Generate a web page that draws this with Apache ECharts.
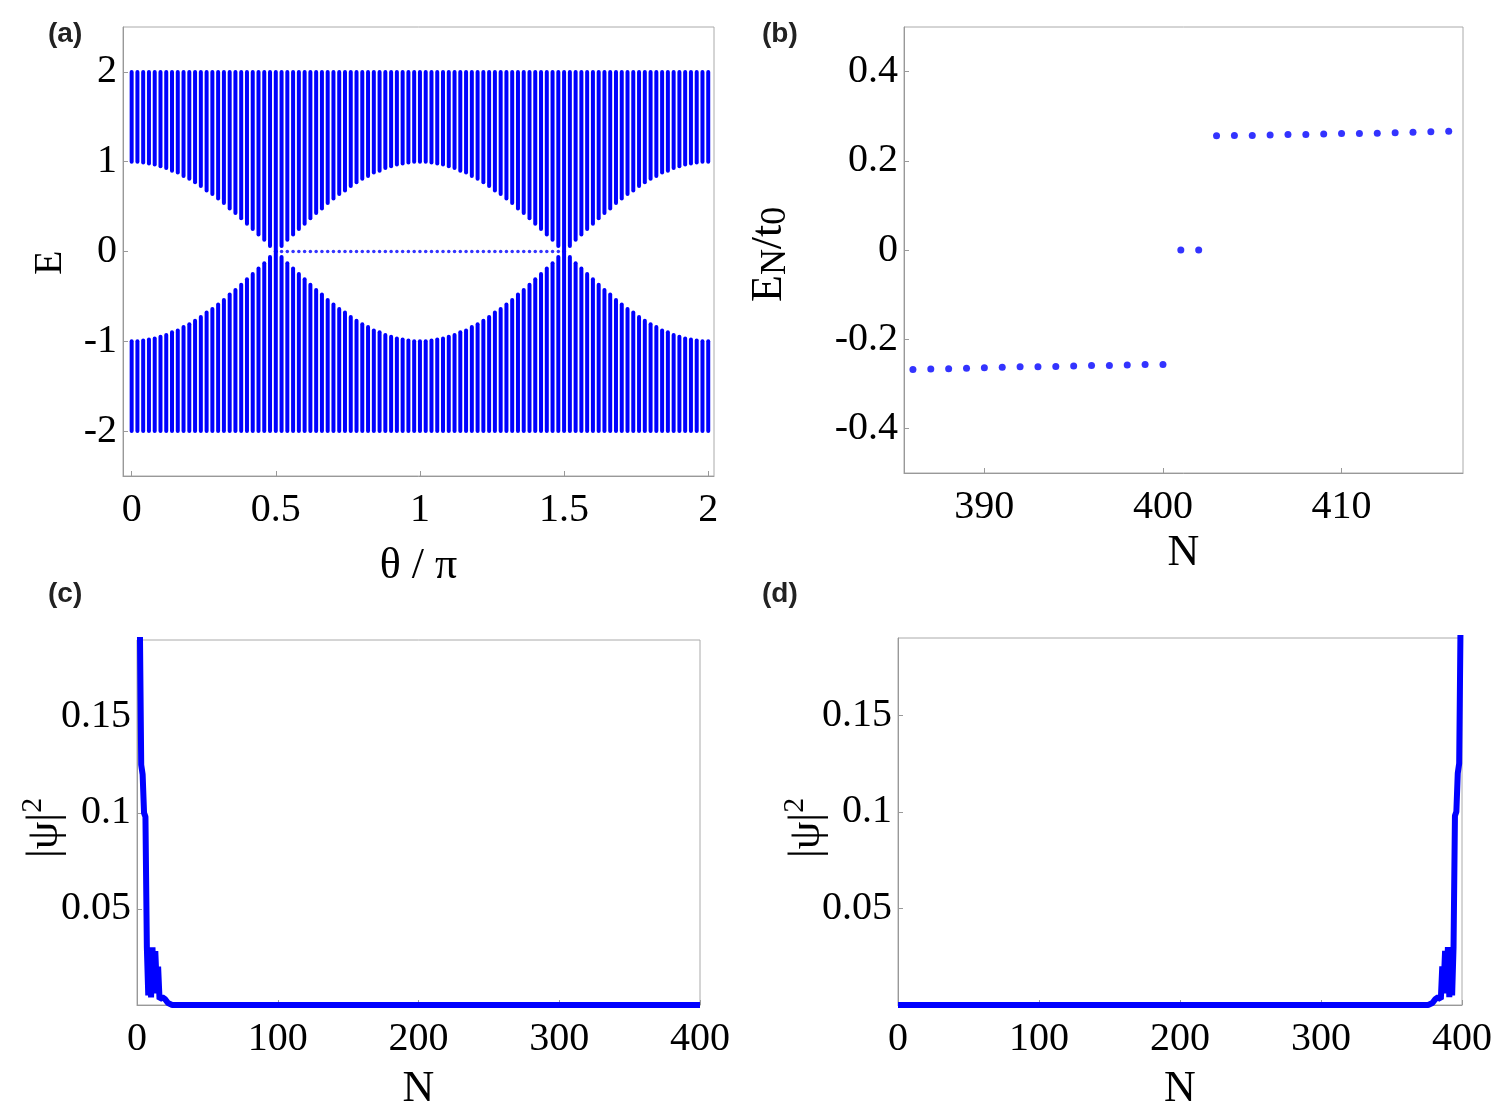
<!DOCTYPE html>
<html><head><meta charset="utf-8">
<script src="https://cdn.jsdelivr.net/npm/echarts@6/dist/echarts.min.js"></script>
<style>html,body{margin:0;padding:0;background:#fff}#c{width:1504px;height:1119px}</style>
</head><body><div id="c"></div>
<script>
// Panel (a): theta/pi of each column and inner band edge |E|
const thetaA = [0,0.02,0.04,0.06,0.08,0.1,0.12,0.14,0.16,0.18,0.2,0.22,0.24,0.26,0.28,0.3,0.32,0.34,0.36,0.38,0.4,0.42,0.44,0.46,0.48,0.5,
0.52,0.54,0.56,0.58,0.6,0.62,0.64,0.66,0.68,0.7,0.72,0.74,0.76,0.78,0.8,0.82,0.84,0.86,0.88,0.9,0.92,0.94,0.96,0.98,1,
1.02,1.04,1.06,1.08,1.1,1.12,1.14,1.16,1.18,1.2,1.22,1.24,1.26,1.28,1.3,1.32,1.34,1.36,1.38,1.4,1.42,1.44,1.46,1.48,1.5,
1.52,1.54,1.56,1.58,1.6,1.62,1.64,1.66,1.68,1.7,1.72,1.74,1.76,1.78,1.8,1.82,1.84,1.86,1.88,1.9,1.92,1.94,1.96,1.98,2];
const innerA = [1.00,1.00,0.99,0.98,0.97,0.95,0.93,0.90,0.88,0.84,0.81,0.77,0.73,0.68,0.64,0.59,0.54,0.48,0.43,0.37,0.31,0.25,0.19,0.13,0.06,0.00,
0.06,0.13,0.19,0.25,0.31,0.37,0.43,0.48,0.54,0.59,0.64,0.68,0.73,0.77,0.81,0.84,0.88,0.90,0.93,0.95,0.97,0.98,0.99,1.00,1.00,
1.00,0.99,0.98,0.97,0.95,0.93,0.90,0.88,0.84,0.81,0.77,0.73,0.68,0.64,0.59,0.54,0.48,0.43,0.37,0.31,0.25,0.19,0.13,0.06,0.00,
0.06,0.13,0.19,0.25,0.31,0.37,0.43,0.48,0.54,0.59,0.64,0.68,0.73,0.77,0.81,0.84,0.88,0.90,0.93,0.95,0.97,0.98,0.99,1.00,1.00];
const outerA = 2;
const zeroModeTheta = [0.52,0.54,0.56,0.58,0.6,0.62,0.64,0.66,0.68,0.7,0.72,0.74,0.76,0.78,0.8,0.82,0.84,0.86,0.88,0.9,0.92,0.94,0.96,0.98,1,
1.02,1.04,1.06,1.08,1.1,1.12,1.14,1.16,1.18,1.2,1.22,1.24,1.26,1.28,1.3,1.32,1.34,1.36,1.38,1.4,1.42,1.44,1.46,1.48];
// Panel (b)
const nB = [386,387,388,389,390,391,392,393,394,395,396,397,398,399,400,401,402,403,404,405,406,407,408,409,410,411,412,413,414,415,416];
const eB = [-0.268,-0.267,-0.266,-0.265,-0.264,-0.263,-0.262,-0.262,-0.261,-0.260,-0.259,-0.259,-0.258,-0.257,-0.257,0,0,
0.256,0.257,0.257,0.258,0.259,0.259,0.260,0.261,0.261,0.262,0.263,0.264,0.265,0.266];
// Panel (c) and (d)
const nC = [1,2,3,4,5,6,7,8,9,10,11,12,13,14,15,16,18,20,22,25,400];
const psiC = [0.26,0.2,0.125,0.12,0.1,0.098,0.03,0.005,0.03,0.004,0.03,0.006,0.028,0.01,0.02,0.003,0.004,0.003,0.001,0,0];
const nD = [400,399,398,397,396,395,394,393,392,391,390,389,388,387,386,385,383,381,379,376,0];
const psiD = [0.26,0.2,0.125,0.12,0.1,0.098,0.03,0.005,0.03,0.004,0.03,0.006,0.028,0.01,0.02,0.003,0.004,0.003,0.001,0,0];

const BLUE = '#0000ff';
const F = 'Liberation Serif';
const lab = {fontFamily:F,fontSize:40,color:'#000'};
const axLine = {show:true,onZero:false,lineStyle:{color:'#999'}};
const tick = {inside:true,length:5,lineStyle:{color:'#999'}};
function xAx(gi,min,max,vals,name,gap){return {gridIndex:gi,type:'value',min,max,axisLine:axLine,axisTick:Object.assign({customValues:vals},tick),
 axisLabel:Object.assign({customValues:vals,margin:14},lab),splitLine:{show:false},name,nameLocation:'middle',nameGap:gap,nameTextStyle:{fontFamily:F,fontSize:44,color:'#000'}};}
function yAx(gi,min,max,vals,fmt){return {gridIndex:gi,type:'value',min,max,axisLine:axLine,axisTick:Object.assign({customValues:vals},tick),
 axisLabel:Object.assign({customValues:vals,margin:6,formatter:fmt},lab),splitLine:{show:false}};}
const grid = (l,t,r,b)=>({left:l,top:t,width:r-l,height:b-t,show:true,borderColor:'#aaa',borderWidth:1});

const chart = echarts.init(document.getElementById('c'));
chart.setOption({
 animation:false,
 grid:[grid(123,27,714,476),grid(904,27,1463,473),grid(137,640,700,1005),grid(898,638,1462,1005)],
 xAxis:[xAx(0,-0.03,2.02,[0,0.5,1,1.5,2],'θ / π',68),xAx(1,385.5,416.8,[390,400,410],'N',58),
        xAx(2,0,400,[0,100,200,300,400],'N',62),xAx(3,0,400,[0,100,200,300,400],'N',62)],
 yAxis:[yAx(0,-2.5,2.5,[-2,-1,0,1,2]),yAx(1,-0.5,0.5,[-0.4,-0.2,0,0.2,0.4],v=>v===0?'0':String(v)),
        yAx(2,0,0.19,[0.05,0.1,0.15]),yAx(3,0,0.19,[0.05,0.1,0.15])],
 graphic:[
  {type:'text',left:48,top:20,style:{text:'(a)',font:'bold 28px Liberation Sans',fill:'#222'}},
  {type:'text',left:762,top:20,style:{text:'(b)',font:'bold 28px Liberation Sans',fill:'#222'}},
  {type:'text',left:48,top:580,style:{text:'(c)',font:'bold 28px Liberation Sans',fill:'#222'}},
  {type:'text',left:762,top:580,style:{text:'(d)',font:'bold 28px Liberation Sans',fill:'#222'}},
  {type:'text',x:30,y:275,rotation:Math.PI/2,style:{text:'E',font:'40px Liberation Serif',fill:'#000'}},
  {type:'text',x:744,y:302,rotation:Math.PI/2,style:{text:'{a|E}{s|N}{a|/t}{s|0}',rich:{a:{font:'44px Liberation Serif',fill:'#000'},s:{font:'36px Liberation Serif',fill:'#000',padding:[14,0,0,0]}}}},
  {type:'text',x:18,y:858,rotation:Math.PI/2,style:{text:'{a||ψ|}{s|2}',rich:{a:{font:'44px Liberation Serif',fill:'#000'},s:{font:'30px Liberation Serif',fill:'#000',padding:[0,0,24,0]}}}},
  {type:'text',x:780,y:858,rotation:Math.PI/2,style:{text:'{a||ψ|}{s|2}',rich:{a:{font:'44px Liberation Serif',fill:'#000'},s:{font:'30px Liberation Serif',fill:'#000',padding:[0,0,24,0]}}}}
 ],
 series:[
  {type:'custom',xAxisIndex:0,yAxisIndex:0,data:thetaA.map((t,i)=>[t,innerA[i]]),
   renderItem:(p,api)=>{const t=api.value(0),e=api.value(1);
     const a=api.coord([t,outerA]),b=api.coord([t,e]),c=api.coord([t,-e]),d=api.coord([t,-outerA]);
     const w=4,st={fill:BLUE};
     return {type:'group',children:[
       {type:'rect',shape:{x:a[0]-w/2,y:a[1]-2,width:w,height:b[1]-a[1]+4,r:2},style:st},
       {type:'rect',shape:{x:c[0]-w/2,y:c[1]-2,width:w,height:d[1]-c[1]+4,r:2},style:st}]};}},
  {type:'scatter',xAxisIndex:0,yAxisIndex:0,symbolSize:3.5,itemStyle:{color:BLUE},data:zeroModeTheta.map(t=>[t,0])},
  {type:'scatter',xAxisIndex:1,yAxisIndex:1,symbolSize:7,itemStyle:{color:BLUE},data:nB.map((n,i)=>[n,eB[i]])},
  {type:'line',xAxisIndex:2,yAxisIndex:2,showSymbol:false,clip:true,lineStyle:{color:BLUE,width:6},data:nC.map((n,i)=>[n,psiC[i]])},
  {type:'line',xAxisIndex:3,yAxisIndex:3,showSymbol:false,clip:true,lineStyle:{color:BLUE,width:6},data:nD.map((n,i)=>[n,psiD[i]])}
 ]
});
</script></body></html>
